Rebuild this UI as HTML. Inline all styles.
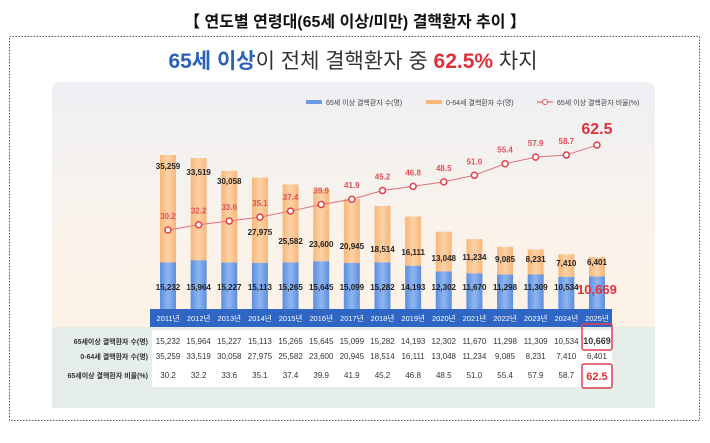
<!DOCTYPE html>
<html><head><meta charset="utf-8"><style>
body{margin:0;width:710px;height:438px;background:#fff;overflow:hidden;font-family:"Liberation Sans","Noto Sans CJK KR",sans-serif}
</style></head><body>
<svg width="710" height="438" xmlns="http://www.w3.org/2000/svg" font-family="Liberation Sans, Noto Sans CJK KR, sans-serif">
<defs>
<linearGradient id="sky" x1="0" y1="0" x2="0" y2="1"><stop offset="0" stop-color="#eef0f4"/><stop offset="0.5" stop-color="#fbf3ea"/><stop offset="1" stop-color="#fdf1e2"/></linearGradient>
<linearGradient id="bl" x1="0" y1="0" x2="1" y2="0"><stop offset="0" stop-color="#5b8ee0"/><stop offset="0.5" stop-color="#8fb5ef"/><stop offset="1" stop-color="#5b8ee0"/></linearGradient>
<linearGradient id="or" x1="0" y1="0" x2="1" y2="0"><stop offset="0" stop-color="#f7b77a"/><stop offset="0.5" stop-color="#fdd2a6"/><stop offset="1" stop-color="#f7b77a"/></linearGradient>
</defs>
<text x="355" y="27" font-size="16" font-weight="bold" text-anchor="middle" fill="#111">【 연도별 연령대(65세 이상/미만) 결핵환자 추이 】</text>
<rect x="9.5" y="36.5" width="690" height="384" fill="none" stroke="#555" stroke-dasharray="1.5,1.5"/>
<text x="353" y="68" font-size="21" text-anchor="middle" fill="#333"><tspan fill="#2a62b8" font-weight="bold">65세 이상</tspan>이 전체 결핵환자 중 <tspan fill="#e0303a" font-weight="bold">62.5%</tspan> 차지</text>
<rect x="52" y="82" width="603" height="326" rx="8" fill="url(#sky)"/>
<rect x="52" y="327" width="603" height="81" fill="#e5eee8"/>
<rect x="150" y="309" width="462" height="18" fill="#2f66c4"/>
<rect x="152" y="330" width="460" height="57" fill="#fff"/>
<g font-size="7" fill="#444">
<rect x="306" y="100" width="16" height="4" fill="#6b9be6"/><text x="326" y="105">65세 이상 결핵환자 수(명)</text>
<rect x="426" y="100" width="16" height="4" fill="#f7b77a"/><text x="446" y="105">0-64세 결핵환자 수(명)</text>
<line x1="537" y1="102" x2="553" y2="102" stroke="#e0505a"/><circle cx="545" cy="102" r="2.5" fill="#fff" stroke="#e0505a"/><text x="557" y="105">65세 이상 결핵환자 비율(%)</text>
</g>
<g id="g"></g>
</svg>
<script>
var B=[15232,15964,15227,15113,15265,15645,15099,15282,14193,12302,11670,11298,11309,10534,10669],
O=[35259,33519,30058,27975,25582,23600,20945,18514,16111,13048,11234,9085,8231,7410,6401],
R=[30.2,32.2,33.6,35.1,37.4,39.9,41.9,45.2,46.8,48.5,51.0,55.4,57.9,58.7,62.5],
OL=[169,175,184,235,244,247,249,252,255,261,260,262,262,266,265];
var k=0.00305,base=309,s='',pts=[];
function f(n){return n.toLocaleString('en-US')}
for(var i=0;i<15;i++){var x=168+i*30.64,bt=base-B[i]*k,ot=bt-O[i]*k,ly=230-(R[i]-30.2)*2.63;
s+='<rect x="'+(x-8)+'" y="'+ot+'" width="16" height="'+(bt-ot)+'" fill="url(#or)"/>';
s+='<rect x="'+(x-8)+'" y="'+bt+'" width="16" height="'+(base-bt)+'" fill="url(#bl)"/>';
s+='<text x="'+x+'" y="'+OL[i]+'" font-size="8" font-weight="bold" text-anchor="middle" fill="#222">'+f(O[i])+'</text>';
if(i<14)s+='<text x="'+x+'" y="290" font-size="8" font-weight="bold" text-anchor="middle" fill="#222">'+f(B[i])+'</text>';
else s+='<text x="'+x+'" y="294" font-size="13" font-weight="bold" text-anchor="middle" fill="#e0303a">'+f(B[i])+'</text>';
s+='<text x="'+x+'" y="321" font-size="7.5" text-anchor="middle" fill="#fff">'+(2011+i)+'년</text>';
pts.push(x+','+ly);
if(i<14)s+='<text x="'+x+'" y="'+(ly-11)+'" font-size="8" font-weight="bold" text-anchor="middle" fill="#e0505a">'+R[i].toFixed(1)+'</text>';
else s+='<text x="'+x+'" y="'+(ly-11)+'" font-size="16" font-weight="bold" text-anchor="middle" fill="#e0303a">'+R[i].toFixed(1)+'</text>';
var big=i==14;
s+='<text x="'+x+'" y="344" font-size="'+(big?9:8)+'" '+(big?'font-weight="bold" ':'')+'text-anchor="middle" fill="#333">'+f(B[i])+'</text>';
s+='<text x="'+x+'" y="359" font-size="8" text-anchor="middle" fill="#333">'+f(O[i])+'</text>';
s+='<text x="'+x+'" y="'+(big?380:378)+'" font-size="'+(big?11:8)+'" '+(big?'font-weight="bold" ':'')+'text-anchor="middle" fill="'+(big?'#e0303a':'#333')+'">'+R[i].toFixed(1)+'</text>';
}
var c='<polyline points="'+pts.join(' ')+'" fill="none" stroke="#e0707a" stroke-width="1"/>';
pts.forEach(function(p){var a=p.split(',');c+='<circle cx="'+a[0]+'" cy="'+a[1]+'" r="3" fill="#fff" stroke="#e0404a" stroke-width="1.5"/>'});
s+=c;
s+='<g font-size="7" font-weight="bold" fill="#333" text-anchor="end"><text x="148" y="344">65세이상 결핵환자 수(명)</text><text x="148" y="359">0-64세 결핵환자 수(명)</text><text x="148" y="378">65세이상 결핵환자 비율(%)</text></g>';
s+='<rect x="582" y="324" width="30" height="26" rx="2" fill="none" stroke="#e04050" stroke-width="1.5"/><rect x="582" y="364" width="30" height="24" rx="2" fill="none" stroke="#e04050" stroke-width="1.5"/>';
document.getElementById('g').innerHTML=s;
</script>
</body></html>
